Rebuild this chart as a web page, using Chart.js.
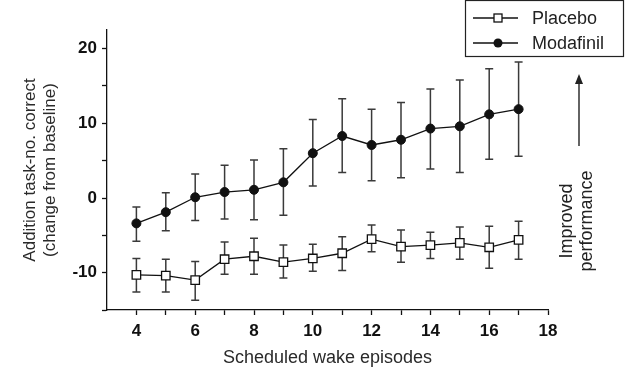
<!DOCTYPE html>
<html>
<head>
<meta charset="utf-8">
<script src="https://cdn.jsdelivr.net/npm/chart.js@4.4.1/dist/chart.umd.min.js"></script>
<style>
  body { margin: 0; background: #fff; }
  canvas { display: block; }
</style>
</head>
<body>
<canvas id="wakeChart" width="626" height="369"></canvas>
<script>
// values (mean and error bar ends)
const episodes = [4, 5, 6, 7, 8, 9, 10, 11, 12, 13, 14, 15, 16, 17];
const placebo = [-10.3, -10.4, -11.0, -8.2, -7.8, -8.6, -8.1, -7.4, -5.5, -6.5, -6.3, -6.0, -6.6, -5.6];
const placeboHigh = [-8.1, -8.2, -8.5, -5.9, -5.4, -6.3, -6.2, -5.2, -3.6, -4.3, -4.6, -3.9, -3.8, -3.1];
const placeboLow = [-12.6, -12.6, -13.7, -10.2, -10.2, -10.7, -9.8, -9.7, -7.2, -8.6, -8.1, -8.2, -9.4, -8.2];
const modafinil = [-3.4, -1.9, 0.1, 0.8, 1.1, 2.1, 6.0, 8.3, 7.1, 7.8, 9.3, 9.6, 11.2, 11.9];
const modafinilHigh = [-1.2, 0.7, 3.2, 4.4, 5.1, 6.6, 10.5, 13.3, 11.9, 12.8, 14.6, 15.8, 17.3, 18.2];
const modafinilLow = [-5.8, -4.4, -3.0, -2.8, -2.9, -2.3, 1.6, 3.4, 2.3, 2.7, 3.9, 3.4, 5.2, 5.6];
const xTickLabels = [4, 6, 8, 10, 12, 14, 16, 18];
const yTickLabels = [-10, 0, 10, 20];

const FONT = "'Liberation Sans', Arial, sans-serif";

const toPoints = (ys) => episodes.map((x, i) => ({ x: x, y: ys[i] }));

// error bars drawn through the chart scales
const errorBars = {
  id: "errorBars",
  beforeDatasetsDraw(chart) {
    const { ctx, scales } = chart;
    const sets = [[placeboHigh, placeboLow], [modafinilHigh, modafinilLow]];
    ctx.save();
    ctx.strokeStyle = "#3a3a3a";
    ctx.lineWidth = 1.5;
    sets.forEach(([hi, lo]) => {
      episodes.forEach((ep, i) => {
        const x = scales.x.getPixelForValue(ep);
        const yTop = scales.y.getPixelForValue(hi[i]);
        const yBot = scales.y.getPixelForValue(lo[i]);
        ctx.beginPath();
        ctx.moveTo(x, yTop); ctx.lineTo(x, yBot);
        ctx.moveTo(x - 4, yTop); ctx.lineTo(x + 4, yTop);
        ctx.moveTo(x - 4, yBot); ctx.lineTo(x + 4, yBot);
        ctx.stroke();
      });
    });
    ctx.restore();
  },
};

// boxed legend and the "Improved performance" arrow
const extras = {
  id: "extras",
  afterDraw(chart) {
    const ctx = chart.ctx;
    ctx.save();
    ctx.strokeStyle = "#222";
    ctx.lineWidth = 1.2;
    ctx.strokeRect(465.5, 0.5, 158, 56);

    ctx.font = "18px " + FONT;
    ctx.fillStyle = "#222";
    ctx.textBaseline = "middle";
    ctx.textAlign = "left";
    const rows = [["Placebo", 18, "rect"], ["Modafinil", 43, "circle"]];
    rows.forEach(([label, y, kind]) => {
      ctx.strokeStyle = "#111";
      ctx.lineWidth = 1.3;
      ctx.beginPath();
      ctx.moveTo(473, y); ctx.lineTo(518, y);
      ctx.stroke();
      if (kind === "rect") {
        ctx.fillStyle = "#fff";
        ctx.fillRect(494, y - 4, 8, 8);
        ctx.strokeRect(494, y - 4, 8, 8);
      } else {
        ctx.fillStyle = "#111";
        ctx.beginPath();
        ctx.arc(498, y, 4.5, 0, Math.PI * 2);
        ctx.fill();
      }
      ctx.fillStyle = "#222";
      ctx.fillText(label, 532, y + 1);
    });

    // arrow
    ctx.strokeStyle = "#222";
    ctx.lineWidth = 1.4;
    ctx.beginPath();
    ctx.moveTo(579, 146); ctx.lineTo(579, 80);
    ctx.stroke();
    ctx.fillStyle = "#222";
    ctx.beginPath();
    ctx.moveTo(579, 74); ctx.lineTo(575, 84); ctx.lineTo(583, 84);
    ctx.closePath();
    ctx.fill();

    ctx.translate(577, 221);
    ctx.rotate(-Math.PI / 2);
    ctx.textAlign = "center";
    ctx.fillText("Improved", 0, -10);
    ctx.fillText("performance", 0, 10);
    ctx.restore();
  },
};

const ctx = document.getElementById("wakeChart").getContext("2d");
const wakeChart = new Chart(ctx, {
  type: "line",
  data: {
    datasets: [
      {
        label: "Placebo",
        data: toPoints(placebo),
        borderColor: "#111",
        borderWidth: 1.3,
        pointStyle: "rect",
        pointRadius: 6,
        pointBackgroundColor: "#fff",
        pointBorderColor: "#111",
        pointBorderWidth: 1.3,
        tension: 0,
      },
      {
        label: "Modafinil",
        data: toPoints(modafinil),
        borderColor: "#111",
        borderWidth: 1.3,
        pointStyle: "circle",
        pointRadius: 4.5,
        pointBackgroundColor: "#111",
        pointBorderColor: "#111",
        pointBorderWidth: 1,
        tension: 0,
      },
    ],
  },
  options: {
    responsive: false,
    animation: false,
    layout: { padding: { top: 30, right: 78, left: 0, bottom: 0 } },
    plugins: { legend: { display: false }, tooltip: { enabled: false } },
    scales: {
      x: {
        type: "linear",
        min: 3,
        max: 18,
        afterBuildTicks: (axis) => {
          axis.ticks = [];
          for (let v = 4; v <= 18; v++) axis.ticks.push({ value: v });
        },
        afterFit: (axis) => { axis.height = 59; },
        ticks: {
          autoSkip: false,
          maxRotation: 0,
          padding: 6,
          color: "#111",
          font: { family: FONT, size: 17, weight: "bold" },
          callback: (v) => (xTickLabels.includes(v) ? String(v) : ""),
        },
        grid: { drawOnChartArea: false, tickLength: 5, color: "#111", tickWidth: 1.3 },
        border: { color: "#111", width: 1.3 },
        title: {
          display: true,
          text: "Scheduled wake episodes",
          color: "#2a2a2a",
          font: { family: FONT, size: 18 },
          padding: { top: 0, bottom: 0 },
        },
      },
      y: {
        min: -15,
        max: 22.5,
        afterBuildTicks: (axis) => {
          axis.ticks = [];
          for (let v = -15; v <= 20; v += 5) axis.ticks.push({ value: v });
        },
        afterFit: (axis) => { axis.width = 107; },
        ticks: {
          autoSkip: false,
          padding: 5,
          color: "#111",
          font: { family: FONT, size: 17, weight: "bold" },
          callback: (v) => (yTickLabels.includes(v) ? String(v) : ""),
        },
        grid: { drawOnChartArea: false, tickLength: 5, color: "#111", tickWidth: 1.3 },
        border: { color: "#111", width: 1.3 },
        title: {
          display: true,
          text: ["Addition task-no. correct", "(change from baseline)"],
          color: "#2a2a2a",
          font: { family: FONT, size: 17 },
          padding: { top: 20, bottom: 0 },
        },
      },
    },
  },
  plugins: [errorBars, extras],
});
</script>
</body>
</html>
